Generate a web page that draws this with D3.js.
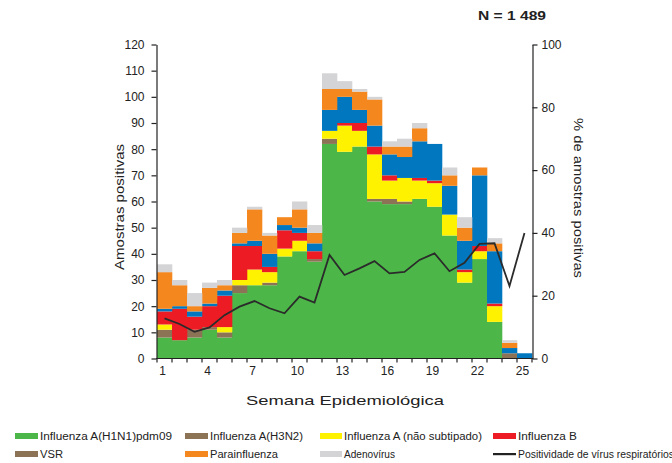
<!DOCTYPE html>
<html>
<head>
<meta charset="utf-8">
<script src="https://cdn.jsdelivr.net/npm/d3@7"></script>
<style>
  body { margin: 0; background: #fff; }
  svg { display: block; font-family: "Liberation Sans", Arial, sans-serif; }
  .axis path, .axis line { stroke: #222; stroke-width: 1.2; }
  .axis text { font-size: 12px; fill: #222; }
</style>
</head>
<body>
<div id="chart"></div>
<script>
// weekly positive samples by virus (stack order bottom -> top)
var weeks = [1,2,3,4,5,6,7,8,9,10,11,12,13,14,15,16,17,18,19,20,21,22,23,24,25];
var h1n1   = [8,7,8,11,8,25,28,28,39,41,37,82,79,81,60,59,59,61,58,47,29,38,14,0,0];
var h3n2   = [3,0,3,1,2,3,0,1,0,0,1,2,0,0,1,2,1,0,0,0,0,0,0,2,0];
var fluA   = [2,0,0,0,2,2,6,4,3,4,0,3,10,6,17,7,9,7,9,8,4,3,6,0,0];
var fluB   = [5,12,5,8,12,13,9,2,7,3,3,0,1,3,3,2,0,1,1,0,1,2,1,0,0];
var vsr    = [1,1,2,1,2,1,2,5,2,2,3,8,10,5,8,8,8,14,14,11,11,27,20,2,2];
var para   = [14,8,2,6,2,4,12,7,3,7,4,8,3,7,10,3,4,5,0,4,5,3,3,2,0];
var adeno  = [3,2,5,2,2,2,1,1,0,3,3,6,3,1,1,2,3,2,0,3,4,0,2,1,0];
// % positivity (right axis)
var positividade = [12.8,11,8.5,9.9,13.8,16.5,18.3,16,14.4,19.7,17.8,33,26.6,28.7,31,27.1,27.6,31.4,33.5,27.8,30.5,36.5,36.7,23.1,40];

var leftTicks = [0,10,20,30,40,50,60,70,80,90,100,110,120];
var rightTicks = [0,20,40,60,80,100];
var xLabels = [1,4,7,10,13,16,19,22,25];

var series = [
  { key: 'h1n1',  name: 'Influenza A(H1N1)pdm09',       color: '#4cb748', values: h1n1 },
  { key: 'h3n2',  name: 'Influenza A(H3N2)',            color: '#8c7356', values: h3n2 },
  { key: 'fluA',  name: 'Influenza A (não subtipado)',  color: '#fff200', values: fluA },
  { key: 'fluB',  name: 'Influenza B',                  color: '#ed1c24', values: fluB },
  { key: 'vsr',   name: 'VSR',                          color: '#0077be', legendColor: '#8c7356', values: vsr },
  { key: 'para',  name: 'Parainfluenza',                color: '#f5871f', values: para },
  { key: 'adeno', name: 'Adenovírus',                   color: '#d4d4d6', values: adeno }
];

var width = 672, height = 463;
var svg = d3.select('#chart').append('svg').attr('width', width).attr('height', height);

var x = d3.scaleBand().domain(weeks).range([157, 532]).padding(0);
var y = d3.scaleLinear().domain([0, 120]).range([358.5, 44.5]);
var yR = d3.scaleLinear().domain([0, 100]).range([358.5, 44.5]);

// build the table for d3.stack
var table = weeks.map(function(w, i) {
  var row = { week: w };
  series.forEach(function(s) { row[s.key] = s.values[i]; });
  return row;
});
var stacked = d3.stack().keys(series.map(function(s) { return s.key; }))(table);

svg.append('g').selectAll('g')
  .data(stacked)
  .enter().append('g')
  .attr('fill', function(d, i) { return series[i].color; })
  .selectAll('rect')
  .data(function(d) { return d; })
  .enter().append('rect')
  .attr('x', function(d) { return x(d.data.week); })
  .attr('width', x.bandwidth() + 0.3)
  .attr('y', function(d) { return y(d[1]); })
  .attr('height', function(d) { return y(d[0]) - y(d[1]); });

// positivity line
var line = d3.line()
  .x(function(d, i) { return x(weeks[i]) + x.bandwidth() / 2; })
  .y(function(d) { return yR(d); });
svg.append('path')
  .datum(positividade)
  .attr('d', line)
  .attr('fill', 'none')
  .attr('stroke', '#2b2b2b')
  .attr('stroke-width', 1.8);

// axes
svg.append('g').attr('class', 'axis')
  .attr('transform', 'translate(156.5,0)')
  .call(d3.axisLeft(y).tickValues(leftTicks).tickSize(5).tickPadding(7).tickSizeOuter(0));

svg.append('g').attr('class', 'axis')
  .attr('transform', 'translate(532.5,0)')
  .call(d3.axisRight(yR).tickValues(rightTicks).tickSize(5).tickPadding(4).tickSizeOuter(0));

var xAxis = svg.append('g').attr('class', 'axis')
  .attr('transform', 'translate(0,358.5)')
  .call(d3.axisBottom(x).tickValues(xLabels).tickSize(0).tickPadding(8).tickSizeOuter(0));
xAxis.select('.domain').remove();
xAxis.selectAll('.tick text').attr('dx', -2);
xAxis.append('line')
  .attr('x1', 156).attr('x2', 533).attr('y1', 0).attr('y2', 0)
  .attr('stroke', '#222').attr('stroke-width', 1.2);
xAxis.selectAll('.bound')
  .data(weeks.map(function(w) { return x(w); }).concat([x.range()[1]]))
  .enter().append('line')
  .attr('class', 'bound')
  .attr('x1', function(d) { return d; }).attr('x2', function(d) { return d; })
  .attr('y1', 0).attr('y2', 4)
  .attr('stroke', '#222').attr('stroke-width', 1);

// axis titles
svg.append('text')
  .attr('transform', 'translate(124,207) rotate(-90)')
  .attr('text-anchor', 'middle')
  .attr('font-size', 12.5).attr('fill', '#222')
  .attr('textLength', 126).attr('lengthAdjust', 'spacingAndGlyphs')
  .text('Amostras positivas');

svg.append('text')
  .attr('transform', 'translate(574,198) rotate(90)')
  .attr('text-anchor', 'middle')
  .attr('font-size', 12.5).attr('fill', '#222')
  .attr('textLength', 160).attr('lengthAdjust', 'spacingAndGlyphs')
  .text('% de amostras positivas');

svg.append('text')
  .attr('x', 345).attr('y', 405)
  .attr('text-anchor', 'middle')
  .attr('font-size', 13).attr('fill', '#222')
  .attr('textLength', 198).attr('lengthAdjust', 'spacingAndGlyphs')
  .text('Semana Epidemiológica');

svg.append('text')
  .attr('x', 478).attr('y', 20)
  .attr('font-size', 13.5).attr('font-weight', 'bold').attr('fill', '#222')
  .attr('textLength', 68).attr('lengthAdjust', 'spacingAndGlyphs')
  .text('N = 1 489');

// legend (2 rows x 4 columns)
var legendItems = series.map(function(s) {
  return { name: s.name, color: s.legendColor || s.color, type: 'rect' };
});
legendItems.push({ name: 'Positividade de vírus respiratórios', color: '#222', type: 'line' });
var colX = [15, 185, 320, 493];
var textLen = [132, 93, 138, 59, 23, 68, 51, 156];
var rowY = [436, 454];

var lg = svg.append('g').selectAll('g')
  .data(legendItems)
  .enter().append('g')
  .attr('transform', function(d, i) { return 'translate(' + colX[i % 4] + ',' + rowY[Math.floor(i / 4)] + ')'; });

lg.append('rect')
  .attr('x', 0).attr('y', function(d) { return d.type === 'line' ? -1 : -3; })
  .attr('width', function(d, i) { return i % 4 === 2 ? 22 : 23; })
  .attr('height', function(d) { return d.type === 'line' ? 2.2 : 6; })
  .attr('fill', function(d) { return d.color; });

lg.append('text')
  .attr('x', function(d, i) { return i % 4 === 2 ? 24 : 25; }).attr('y', 3.5)
  .attr('font-size', 10).attr('fill', '#222')
  .attr('textLength', function(d, i) { return textLen[i]; })
  .attr('lengthAdjust', 'spacingAndGlyphs')
  .text(function(d) { return d.name; });
</script>
</body>
</html>
